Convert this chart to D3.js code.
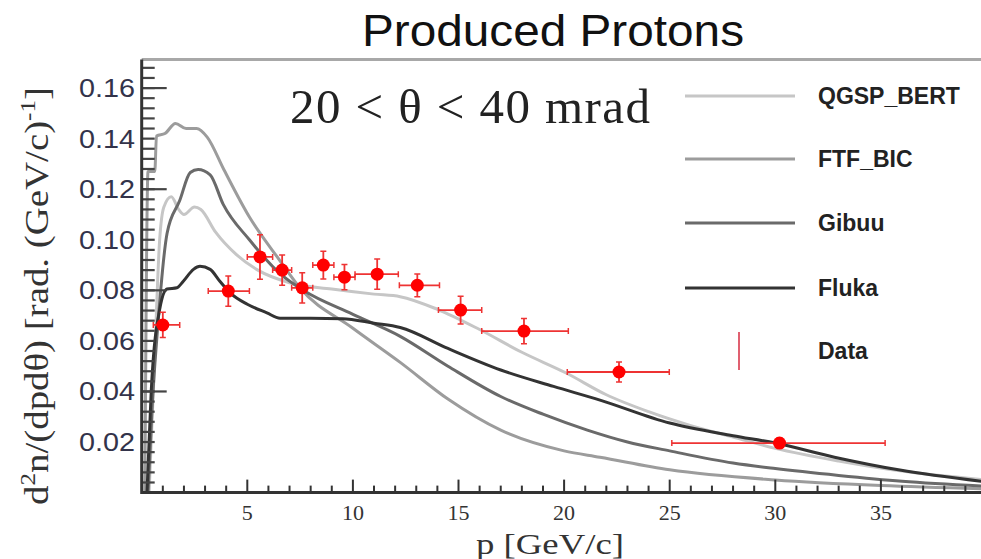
<!DOCTYPE html>
<html><head><meta charset="utf-8">
<script src="https://cdn.jsdelivr.net/npm/d3@7"></script>
<style>body{margin:0;background:#fff}svg{display:block}</style>
</head><body>
<svg id="c" width="981" height="559"></svg>
<script>
// ---- data ----
const title = "Produced Protons";
const xTickVals = [5,10,15,20,25,30,35];
const yTickVals = [0.02,0.04,0.06,0.08,0.10,0.12,0.14,0.16];
const yTickLabels = ["0.02","0.04","0.06","0.08","0.10","0.12","0.14","0.16"];
const seriesNames = ["QGSP_BERT","FTF_BIC","Gibuu","Fluka"];

const qgspP = [0.35,0.6,0.85,1.05,1.4,1.75,2.0,2.5,2.8,3.5,4.5,5.5,7,9,11,12.24,14,16,18,20.1,22,24,26,28,30,33,36,40];
const qgspV = [0.0,0.05,0.1,0.113,0.117,0.112,0.110,0.113,0.112,0.103,0.094,0.088,0.083,0.0805,0.0785,0.0775,0.0725,0.0645,0.0555,0.0473,0.0387,0.032,0.0265,0.022,0.0175,0.0125,0.0085,0.005];

const ftfP = [0.15,0.3,0.62,0.7,1.1,1.6,2.1,2.6,3.1,3.9,5.1,6.55,7.5,10,12.24,14.5,17,20,21.7,25,30,35,40];
const ftfV = [0.0,0.127,0.127,0.141,0.142,0.146,0.144,0.144,0.1406,0.1276,0.109,0.0917,0.0809,0.065,0.0515,0.037,0.0247,0.0165,0.014,0.009,0.005,0.0028,0.0015];

const gibuuP = [0.3,0.5,0.72,1.2,1.8,2.3,2.67,3.24,3.86,5.1,6.55,7.65,10,12.24,14.5,17,19,21.1,23,25,28,30,33,36,40];
const gibuuV = [0.0,0.035,0.0615,0.1025,0.1155,0.1266,0.1278,0.1257,0.114,0.100,0.0866,0.080,0.0705,0.0618,0.050,0.038,0.031,0.0247,0.020,0.0165,0.0117,0.0095,0.0068,0.0045,0.0025];

const flukaP = [0.25,0.45,0.87,1.2,1.67,1.97,2.45,2.76,3.24,3.7,4.2,5.0,5.93,6.55,8,9.5,11,12.24,14.5,17,19.5,21.7,25,28,30,32.8,35.9,40];
const flukaV = [0.0,0.04,0.0733,0.0805,0.081,0.0836,0.0883,0.0895,0.0883,0.0836,0.0789,0.0745,0.0711,0.069,0.069,0.0688,0.067,0.0653,0.057,0.0485,0.042,0.0366,0.0275,0.0225,0.0196,0.014,0.0089,0.0042];

const dataP  = [1.0,4.1,5.6,6.65,7.6,8.6,9.6,11.15,13.05,15.1,18.1,22.6,30.2];
const dataV  = [0.0663,0.0797,0.0932,0.088,0.081,0.090,0.0852,0.0864,0.082,0.0722,0.0639,0.0477,0.0196];
const dataLo = [0.55,3.15,5.0,6.2,7.1,8.1,9.1,10.1,12.2,14.05,16.1,20.15,25.1];
const dataHi = [1.8,5.1,6.2,7.1,8.1,9.1,10.1,12.15,14.1,16.1,20.2,24.98,35.2];
const dataErr= [0.005,0.006,0.0088,0.006,0.006,0.0055,0.005,0.006,0.0045,0.0055,0.005,0.004,0.002];

// ---- layout ----
const svg = d3.select("#c");
const x = d3.scaleLinear().domain([0,40]).range([141.7, 986.5]);
const y = d3.scaleLinear().domain([0,0.1713]).range([492.6, 59.5]);
const colors = ["#c6c6c6","#9c9c9c","#6a6a6a","#333333"];

svg.append("defs").append("clipPath").attr("id","pc")
  .append("rect").attr("x",x(0)).attr("y",y(0.1713)).attr("width",981-x(0)).attr("height",y(0)-y(0.1713));

// title
svg.append("text").attr("x",553).attr("y",46).attr("text-anchor","middle")
  .attr("font-family","Liberation Sans, Arial, sans-serif").attr("font-size",45).attr("fill","#111")
  .attr("textLength",382).attr("lengthAdjust","spacingAndGlyphs").text(title);

// top frame line
svg.append("line").attr("x1",x(0)).attr("x2",981).attr("y1",y(0.1713)).attr("y2",y(0.1713))
  .attr("stroke","#a8a8a8").attr("stroke-width",3);

// curves
const plotG = svg.append("g").attr("clip-path","url(#pc)");
const curves = [[qgspP,qgspV],[ftfP,ftfV],[gibuuP,gibuuV],[flukaP,flukaV]];
const line = d3.line().x(d=>x(d[0])).y(d=>y(d[1])).curve(d3.curveMonotoneX);
curves.forEach((c,i)=>{
  const pts = c[0].map((p,j)=>[p,c[1][j]]);
  plotG.append("path").attr("d",line(pts)).attr("fill","none")
    .attr("stroke",colors[i]).attr("stroke-width",3).attr("stroke-linejoin","round");
});

// data with error bars
const red = "#ee3333";
const eg = plotG.append("g");
dataP.forEach((p,i)=>{
  const cx = x(p), cy = y(dataV[i]);
  eg.append("line").attr("x1",x(dataLo[i])).attr("x2",x(dataHi[i])).attr("y1",cy).attr("y2",cy).attr("stroke",red).attr("stroke-width",1.8);
  [dataLo[i],dataHi[i]].forEach(e=>eg.append("line").attr("x1",x(e)).attr("x2",x(e)).attr("y1",cy-3).attr("y2",cy+3).attr("stroke",red).attr("stroke-width",1.5));
  eg.append("line").attr("x1",cx).attr("x2",cx).attr("y1",y(dataV[i]+dataErr[i])).attr("y2",y(dataV[i]-dataErr[i])).attr("stroke",red).attr("stroke-width",1.8);
  [dataV[i]+dataErr[i],dataV[i]-dataErr[i]].forEach(e=>eg.append("line").attr("x1",cx-3).attr("x2",cx+3).attr("y1",y(e)).attr("y2",y(e)).attr("stroke",red).attr("stroke-width",1.5));
  eg.append("circle").attr("cx",cx).attr("cy",cy).attr("r",6.5).attr("fill","#ff0000");
});

// x axis
const xMinor = d3.range(1,40).filter(v=>v%5!==0);
const xAx = svg.append("g");
xAx.selectAll("line.mn").data(xMinor).join("line").attr("x1",d=>x(d)).attr("x2",d=>x(d))
  .attr("y1",y(0)).attr("y2",y(0)-7).attr("stroke","#333").attr("stroke-width",2);
xAx.selectAll("line.mj").data(xTickVals).join("line").attr("x1",d=>x(d)).attr("x2",d=>x(d))
  .attr("y1",y(0)).attr("y2",y(0)-13).attr("stroke","#333").attr("stroke-width",2);
xAx.append("line").attr("x1",x(0)).attr("x2",981).attr("y1",y(0)).attr("y2",y(0)).attr("stroke","#333").attr("stroke-width",3);
xAx.selectAll("text").data(xTickVals).join("text").attr("x",d=>x(d)).attr("y",520)
  .attr("text-anchor","middle").attr("font-family","Liberation Serif, Times New Roman, serif")
  .attr("font-size",22).attr("fill","#333").text(d=>d);
svg.append("text").attr("x",550).attr("y",554).attr("text-anchor","middle")
  .attr("font-family","Liberation Serif, Times New Roman, serif").attr("font-size",29).attr("fill","#333")
  .attr("textLength",148).attr("lengthAdjust","spacingAndGlyphs").text("p [GeV/c]");

// y axis
const yMinor = d3.range(1,43).map(k=>k*0.004).filter(v=>v<0.1713);
const yAx = svg.append("g");
yAx.selectAll("line.mn").data(yMinor).join("line").attr("x1",x(0)).attr("x2",x(0)+13)
  .attr("y1",d=>y(d)).attr("y2",d=>y(d)).attr("stroke","#444").attr("stroke-width",2.2);
yAx.selectAll("line.mj").data([0.04,0.08,0.12,0.16]).join("line").attr("x1",x(0)).attr("x2",x(0)+25)
  .attr("y1",d=>y(d)).attr("y2",d=>y(d)).attr("stroke","#444").attr("stroke-width",2.2);
yAx.append("line").attr("x1",x(0)).attr("x2",x(0)).attr("y1",y(0)+1.5).attr("y2",y(0.1713)).attr("stroke","#333").attr("stroke-width",3);
yAx.selectAll("text").data(yTickVals).join("text").attr("x",135).attr("y",d=>y(d))
  .attr("text-anchor","end").attr("dominant-baseline","central")
  .attr("font-family","Liberation Sans, Arial, sans-serif").attr("font-size",25).attr("fill","#33334a")
  .attr("textLength",56).attr("lengthAdjust","spacingAndGlyphs")
  .text((d,i)=>yTickLabels[i]);

// y label
const yl = svg.append("text").attr("transform","translate(48,296) rotate(-90)").attr("text-anchor","middle")
  .attr("font-family","Liberation Serif, Times New Roman, serif").attr("font-size",34).attr("fill","#333")
  .attr("textLength",418).attr("lengthAdjust","spacingAndGlyphs");
yl.append("tspan").text("d");
yl.append("tspan").attr("font-size",22).attr("dy",-13).text("2");
yl.append("tspan").attr("dy",13).text("n/(dpdθ) [rad. (GeV/c)");
yl.append("tspan").attr("font-size",22).attr("dy",-13).text("-1");
yl.append("tspan").attr("dy",13).text("]");

// theta range text
svg.append("text").attr("x",290).attr("y",123)
  .attr("font-family","Liberation Serif, Times New Roman, serif").attr("font-size",49).attr("fill","#222")
  .attr("textLength",360).attr("lengthAdjust","spacing").text("20 < θ < 40 mrad");

// legend
const legY = [96,159,223,288];
seriesNames.forEach((n,i)=>{
  svg.append("line").attr("x1",685).attr("x2",795).attr("y1",legY[i]).attr("y2",legY[i])
    .attr("stroke",colors[i]).attr("stroke-width",3);
  svg.append("text").attr("x",818).attr("y",legY[i]).attr("dominant-baseline","central")
    .attr("font-family","Liberation Sans, Arial, sans-serif").attr("font-weight","bold")
    .attr("font-size",23).attr("fill","#222").text(n);
});
svg.append("line").attr("x1",739).attr("x2",739).attr("y1",332).attr("y2",370).attr("stroke","#e06070").attr("stroke-width",2);
svg.append("text").attr("x",818).attr("y",351).attr("dominant-baseline","central")
  .attr("font-family","Liberation Sans, Arial, sans-serif").attr("font-weight","bold")
  .attr("font-size",23).attr("fill","#222").text("Data");
</script>
</body></html>
